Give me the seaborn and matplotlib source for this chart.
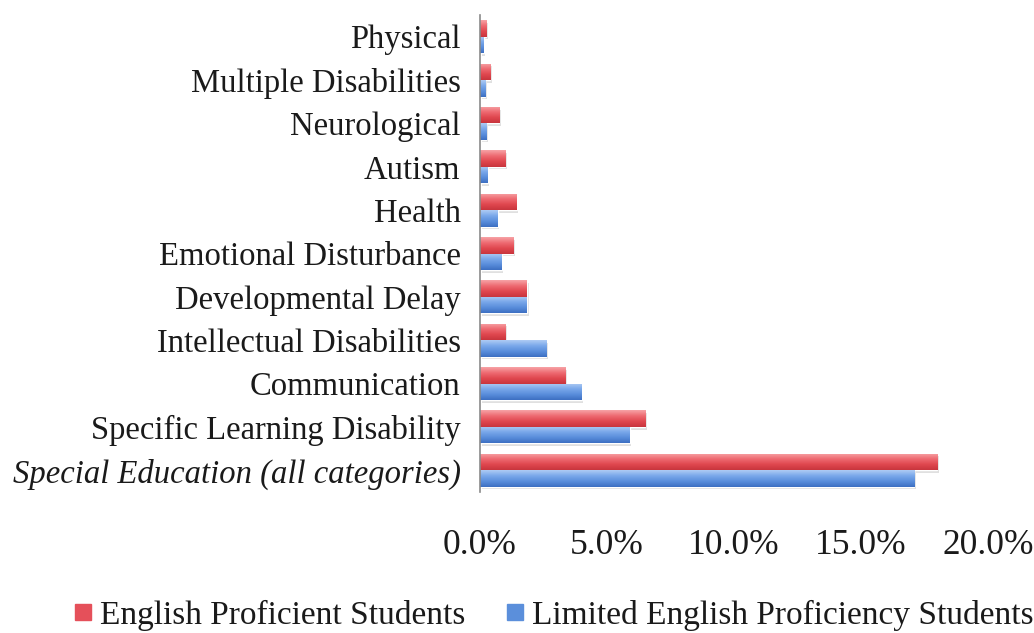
import numpy as np
import pandas as pd
import seaborn as sns
import matplotlib
matplotlib.use("Agg")
import matplotlib.pyplot as plt
from matplotlib.colors import LinearSegmentedColormap
from matplotlib.lines import Line2D
from matplotlib.ticker import FuncFormatter

categories = ["Physical", "Multiple Disabilities", "Neurological", "Autism", "Health",
              "Emotional Disturbance", "Developmental Delay", "Intellectual Disabilities",
              "Communication", "Specific Learning Disability",
              "Special Education (all categories)"]
english_proficient = [0.25, 0.4, 0.75, 1.0, 1.45, 1.3, 1.85, 1.0, 3.35, 6.5, 18.0]
limited_english = [0.15, 0.2, 0.25, 0.3, 0.7, 0.85, 1.85, 2.6, 4.0, 5.9, 17.1]
series_names = ["English Proficient Students", "Limited English Proficiency Students"]
x_ticks = [0, 5, 10, 15, 20]

df = pd.DataFrame({
    "category": categories * 2,
    "value": english_proficient + limited_english,
    "series": [series_names[0]] * len(categories) + [series_names[1]] * len(categories),
})

red_main = "#E5505A"
blue_main = "#5B8FDB"
palette = {series_names[0]: red_main, series_names[1]: blue_main}

sns.set_theme(style="white")
plt.rcParams["font.family"] = ["Liberation Serif", "DejaVu Serif"]
plt.rcParams["text.color"] = "#1a1a1a"

fig = plt.figure(figsize=(10.34, 6.33), dpi=100)
ax = fig.add_axes([480 / 1034, 1 - 492 / 633, (988 - 480) / 1034, (492 - 15) / 633])

sns.barplot(data=df, y="category", x="value", hue="series", order=categories,
            hue_order=series_names, palette=palette, orient="h", width=0.76,
            ax=ax, legend=False, saturation=1)

red_cmap = LinearSegmentedColormap.from_list("r", ["#F7A3A6", "#EE6B72", "#E0474F", "#C8353D"])
blue_cmap = LinearSegmentedColormap.from_list("b", ["#AECBF4", "#7AA8EA", "#5A8EDC", "#3D6FC2"])
grad = np.linspace(0, 1, 64).reshape(-1, 1)
ylim = ax.get_ylim()
for p in list(ax.patches):
    r, g, b, _ = p.get_facecolor()
    cm = red_cmap if r > b else blue_cmap
    x0, y0 = p.get_x(), p.get_y()
    w, h = p.get_width(), p.get_height()
    if w <= 0:
        continue
    ax.add_patch(plt.Rectangle((x0 + 0.06, y0 + 0.06), w, h, color="#bbbbbb", alpha=0.45,
                               zorder=p.get_zorder() - 0.5, linewidth=0))
    im = ax.imshow(grad, extent=[x0, x0 + w, y0 + h, y0], aspect="auto", cmap=cm,
                   zorder=p.get_zorder() + 0.1, interpolation="bilinear")
    im.set_clip_path(p)
ax.set_xlim(0, 20)
ax.set_ylim(ylim)

ax.set_xticks(x_ticks)
ax.xaxis.set_major_formatter(FuncFormatter(lambda v, _: f"{v:.1f}%"))
ax.set_xlabel("")
ax.set_ylabel("")
ax.tick_params(axis="x", length=0, pad=27, labelsize=25.5, labelcolor="#1a1a1a")
ax.tick_params(axis="y", length=0, pad=14, labelsize=23.5, labelcolor="#1a1a1a")
for lab in ax.get_yticklabels():
    if lab.get_text().startswith("Special Education"):
        lab.set_fontstyle("italic")

for s in ["top", "right", "bottom"]:
    ax.spines[s].set_visible(False)
ax.spines["left"].set_color("#8a8a8a")
ax.spines["left"].set_linewidth(1.2)
ax.grid(False)

handles = [Line2D([], [], marker="s", linestyle="", color=red_main, markersize=11),
           Line2D([], [], marker="s", linestyle="", color=blue_main, markersize=11)]
fig.legend(handles, series_names, loc="center", bbox_to_anchor=(0.536, 0.028), ncol=2,
           frameon=False, fontsize=24, handlelength=0.5, handletextpad=0.25,
           columnspacing=1.25, borderpad=0.1, borderaxespad=0)

fig.savefig("out.png", dpi=100, facecolor="white")
